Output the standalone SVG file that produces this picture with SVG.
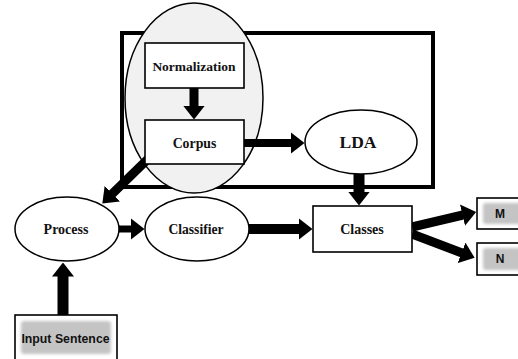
<svg xmlns="http://www.w3.org/2000/svg" width="518" height="359" viewBox="0 0 518 359">
<style>
.box{fill:#fff;stroke:#000;stroke-width:1.6}
.ell{fill:#fff;stroke:#000;stroke-width:1.5}
.t{font-family:"Liberation Serif","Times New Roman",serif;font-weight:bold;text-anchor:middle;fill:#111}
.s{font-family:"Liberation Sans",Arial,sans-serif;font-weight:bold;text-anchor:middle;fill:#111}
.arr{stroke:#000;fill:none;marker-end:url(#ah)}
.gray{fill:#c4c4c4;filter:url(#soft)}
</style>
<defs>
<marker id="ah" viewBox="0 0 14 22" markerWidth="14" markerHeight="22" refX="0.5" refY="11" orient="auto" markerUnits="userSpaceOnUse">
<path d="M0,0 L14,11 L0,22 z" fill="#000"/>
</marker>
<filter id="soft" x="-20%" y="-30%" width="140%" height="160%"><feGaussianBlur stdDeviation="1.5"/></filter>
</defs>
<rect width="518" height="359" fill="#fff"/>
<g id="frame"><rect x="122" y="33" width="311" height="154" fill="none" stroke="#000" stroke-width="4"/></g>
<g id="cluster"><ellipse cx="194" cy="98" rx="69" ry="95" fill="#f1f1f1" stroke="#000" stroke-width="1.5"/></g>
<g id="connectors">
<line class="arr" x1="194" y1="88" x2="194" y2="106" stroke-width="9"/>
<line class="arr" x1="244" y1="143" x2="291" y2="143" stroke-width="8"/>
<line class="arr" x1="359" y1="174" x2="359" y2="192" stroke-width="11"/>
<line class="arr" x1="150" y1="157" x2="112" y2="194" stroke-width="9"/>
<line class="arr" x1="118" y1="229" x2="131" y2="229" stroke-width="7"/>
<line class="arr" x1="248" y1="229" x2="299" y2="229" stroke-width="10"/>
<line class="arr" x1="63" y1="315" x2="63" y2="276" stroke-width="11"/>
<line class="arr" x1="412" y1="227" x2="463" y2="215" stroke-width="9"/>
<line class="arr" x1="412" y1="234" x2="462" y2="253" stroke-width="9"/>
</g>
<g id="normalization"><rect class="box" x="145" y="43" width="99" height="45"/><text class="t" x="194" y="71" font-size="13.5">Normalization</text></g>
<g id="corpus"><rect class="box" x="145" y="120" width="99" height="44"/><text class="t" x="194.5" y="148" font-size="13.8">Corpus</text></g>
<g id="lda"><ellipse class="ell" cx="361" cy="142" rx="56" ry="32"/><text class="t" x="358" y="148" font-size="17.5">LDA</text></g>
<g id="process"><ellipse class="ell" cx="67" cy="229" rx="52" ry="32"/><text class="t" x="66" y="234" font-size="14">Process</text></g>
<g id="classifier"><ellipse class="ell" cx="197" cy="229" rx="52" ry="32"/><text class="t" x="196" y="234" font-size="13.6">Classifier</text></g>
<g id="classes"><rect class="box" x="313" y="206" width="99" height="46"/><text class="t" x="362" y="234" font-size="14">Classes</text></g>
<g id="input"><rect class="box" x="15" y="315" width="102" height="50"/><rect class="gray" x="21" y="321" width="90" height="33" rx="3"/><text class="s" x="65.5" y="343" font-size="12.3">Input Sentence</text></g>
<g id="m"><rect class="box" x="477" y="198" width="50" height="31"/><rect class="gray" x="483" y="203" width="40" height="21" rx="3"/><text class="s" x="500" y="218" font-size="12">M</text></g>
<g id="n"><rect class="box" x="477" y="243" width="50" height="32"/><rect class="gray" x="483" y="248" width="40" height="22" rx="3"/><text class="s" x="500" y="263" font-size="12">N</text></g>
</svg>
